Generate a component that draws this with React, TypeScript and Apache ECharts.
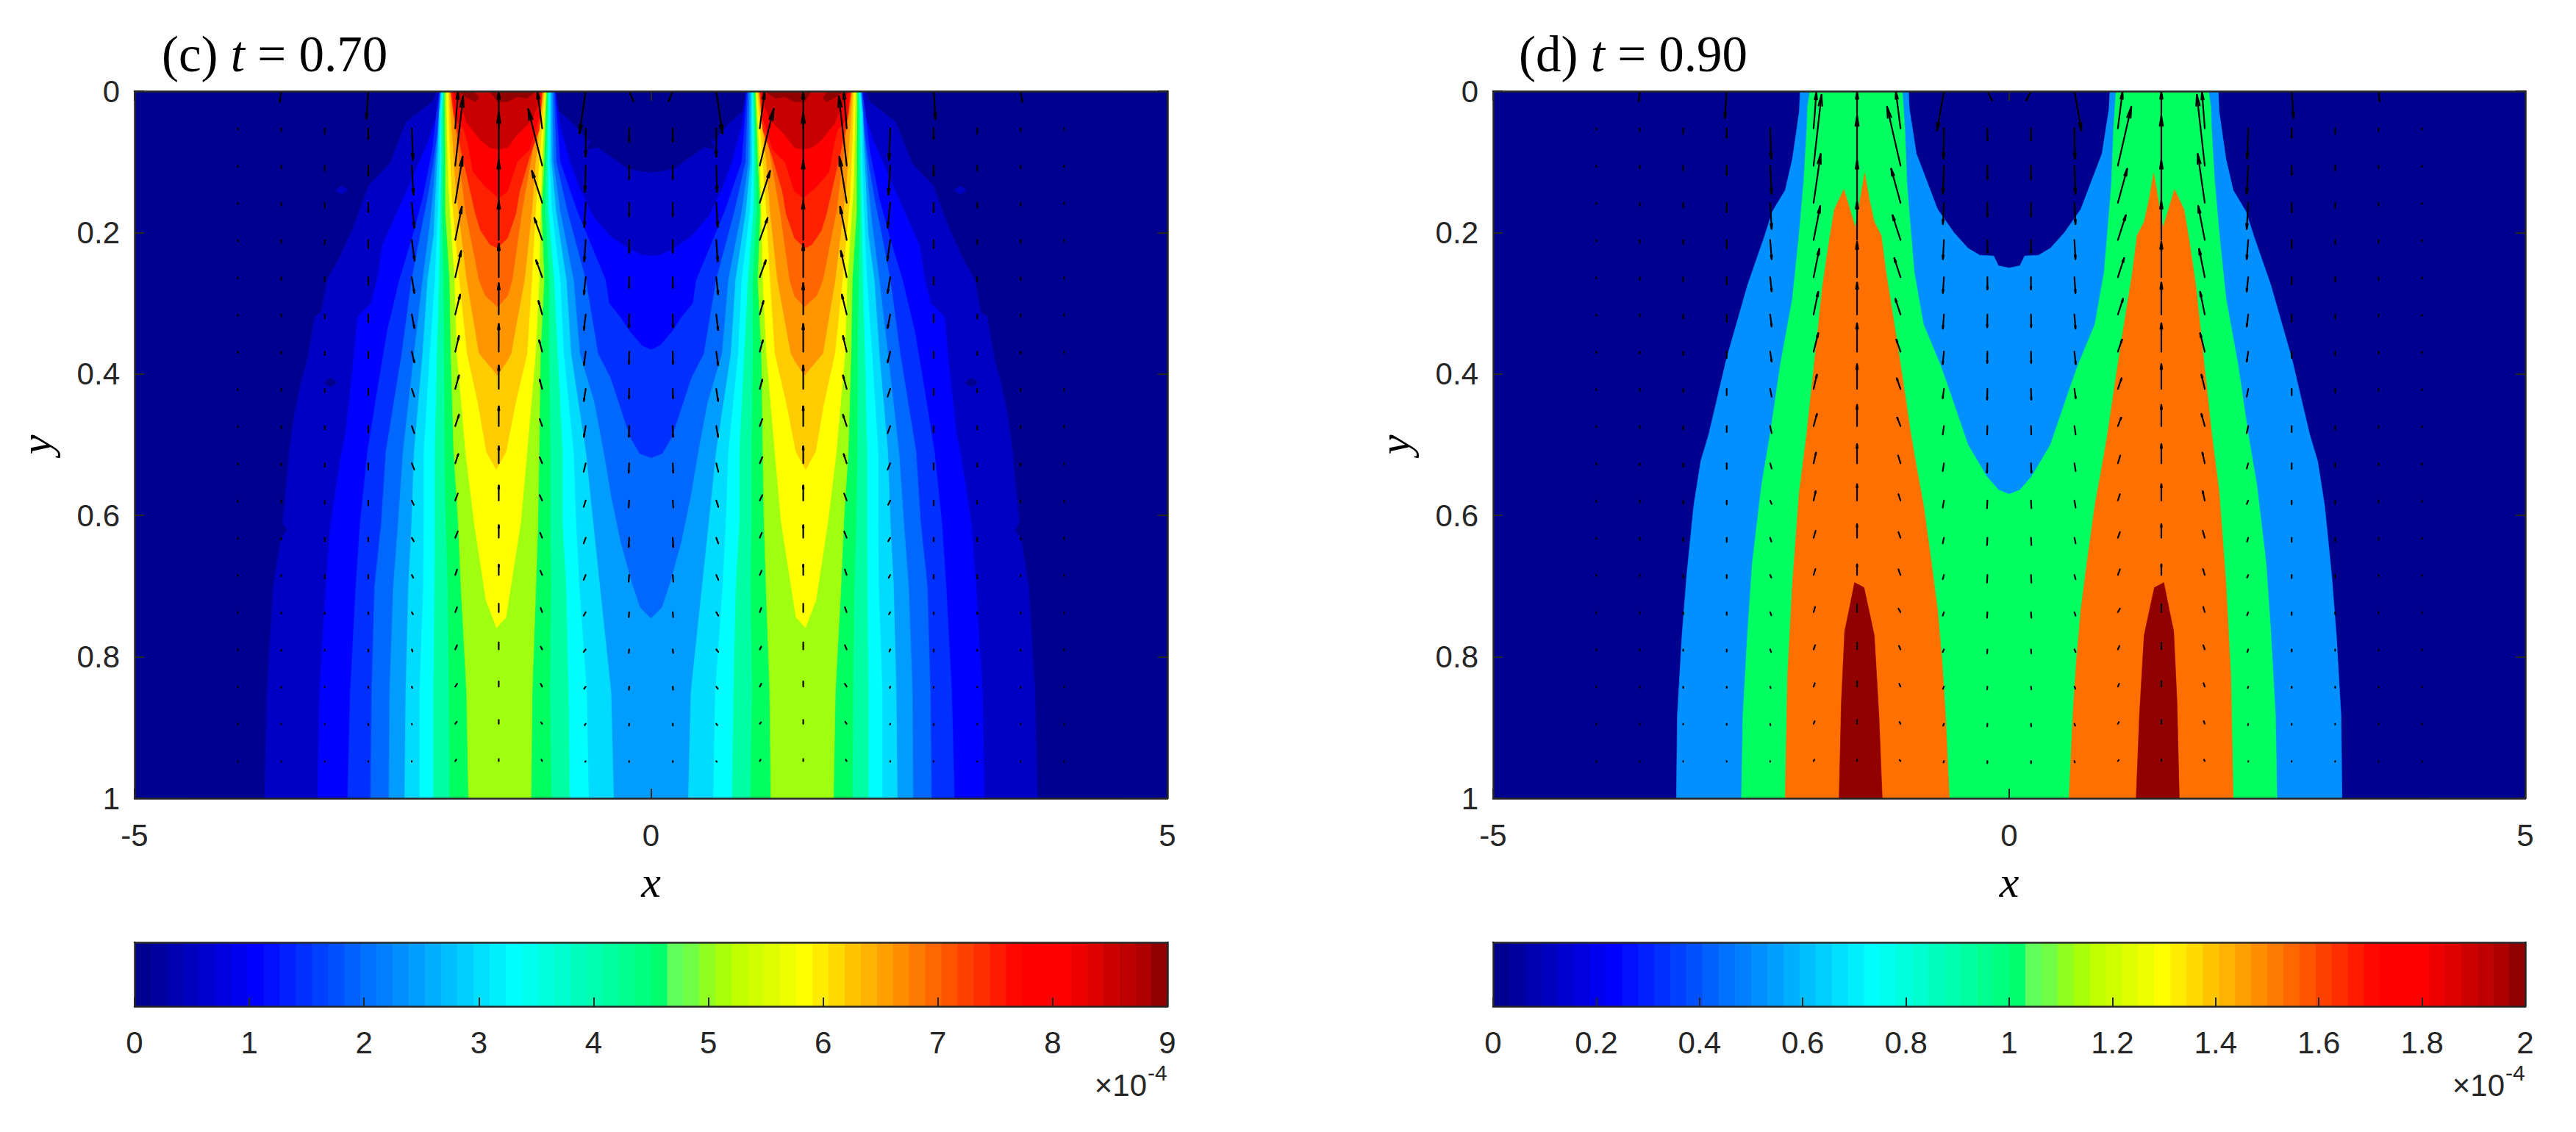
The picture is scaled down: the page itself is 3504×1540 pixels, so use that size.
import React, { useEffect, useRef } from "react";
import * as echarts from "echarts";

type P = number[];

// ---------- colour map of the colour bars (64 cells) ----------
const cmap = [
  "#00008f","#00009f","#0000af","#0000bf","#0000cf","#0000df","#0000ef","#0000ff",
  "#0010ff","#0020ff","#0030ff","#0040ff","#0050ff","#0060ff","#0070ff","#0080ff",
  "#008fff","#009fff","#00afff","#00bfff","#00cfff","#00dfff","#00efff","#00ffff",
  "#00ffef","#00ffdf","#00ffcf","#00ffbf","#00ffaf","#00ff9f","#00ff8f","#00ff7f",
  "#00ff6f","#60ff5a","#70ff45","#90ff20","#a8ff08","#bfff00","#cfff00","#dfff00",
  "#efff00","#ffff00","#ffec00","#ffd900","#ffc600","#ffb300","#ffa000","#ff8d00",
  "#ff7a00","#ff6700","#ff5400","#ff4100","#ff2e00","#ff1b00","#ff0800","#ff0000",
  "#ff0000","#ff0000","#ef0000","#df0000","#cf0000","#bf0000","#af0000","#8f0000",
];

// ---------- tick labels ----------
const xTicks = [-5, 0, 5];
const yTicks = [0, 0.2, 0.4, 0.6, 0.8, 1];
const barCTicks = [0, 1, 2, 3, 4, 5, 6, 7, 8, 9];
const barDTicks = [0, 0.2, 0.4, 0.6, 0.8, 1, 1.2, 1.4, 1.6, 1.8, 2];

// ---------- panel (c): filled contour outlines, left half, mirrored on x = 0 ----------
const cColors = ["#0000c4","#0000ff","#0030ff","#0068ff","#009cff","#00dcff","#00ffff","#00ffa4","#00ff60","#a0ff10","#ffff00","#ffcc00","#ff9500","#ff6600","#ff2000","#ff0000","#c80000","#900000"];
const cL1: P[] = [[-3.74,1],[-3.717,.85],[-3.655,.7],[-3.583,.633],[-3.521,.621],[-3.565,.611],[-3.5,.51],[-3.455,.46],[-3.384,.41],[-3.325,.38],[-3.254,.319],[-3.19,.312],[-3.135,.267],[-3.02,.237],[-2.875,.19],[-2.73,.133],[-2.53,.103],[-2.37,.044],[-2.11,.014],[-2.076,0],[-.92,0],[-.893,.028],[-.763,.045],[-.61,.071],[-.58,.069],[-.632,.083],[-.514,.08],[-.348,.097],[-.229,.11],[-.087,.114],[0,.115]];
const cL2: P[] = [[-3.227,1],[-3.209,.85],[-3.147,.7],[-3.10,.61],[-2.993,.51],[-2.957,.485],[-2.886,.39],[-2.84,.319],[-2.71,.30],[-2.65,.267],[-2.60,.218],[-2.483,.18],[-2.388,.149],[-2.293,.118],[-2.15,.069],[-2.068,.031],[-2.05,0],[-.925,0],[-.88,.05],[-.786,.10],[-.70,.135],[-.56,.177],[-.395,.205],[-.229,.222],[-.087,.232],[0,.233]];
const cL3: P[] = [[-2.937,1],[-2.911,.85],[-2.857,.7],[-2.815,.61],[-2.744,.51],[-2.649,.423],[-2.554,.34],[-2.435,.267],[-2.305,.204],[-2.21,.152],[-2.115,.083],[-2.075,.031],[-2.045,0],[-.93,0],[-.88,.10],[-.715,.17],[-.44,.267],[-.407,.30],[-.30,.319],[-.205,.34],[-.087,.36],[0,.366]];
const cL4: P[] = [[-2.715,1],[-2.704,.85],[-2.675,.7],[-2.61,.61],[-2.566,.51],[-2.412,.371],[-2.317,.267],[-2.234,.204],[-2.163,.152],[-2.115,.111],[-2.068,.062],[-2.04,0],[-.94,0],[-.917,.10],[-.81,.17],[-.632,.267],[-.514,.371],[-.395,.405],[-.30,.447],[-.205,.489],[-.11,.513],[0,.519]];
const cL5: P[] = [[-2.537,1],[-2.53,.85],[-2.494,.7],[-2.447,.61],[-2.40,.51],[-2.293,.371],[-2.21,.267],[-2.139,.187],[-2.103,.135],[-2.075,.083],[-2.05,.038],[-2.035,0],[-.955,0],[-.946,.10],[-.88,.17],[-.75,.267],[-.69,.371],[-.55,.44],[-.46,.51],[-.39,.571],[-.297,.637],[-.188,.695],[-.108,.73],[0,.746]];
const cL6: P[] = [[-2.385,1],[-2.374,.85],[-2.348,.7],[-2.317,.61],[-2.293,.51],[-2.21,.371],[-2.162,.267],[-2.103,.204],[-2.08,.135],[-2.06,.083],[-2.05,.031],[-2.03,0],[-.97,0],[-.965,.10],[-.92,.17],[-.82,.267],[-.775,.371],[-.632,.51],[-.561,.61],[-.496,.7],[-.387,.85],[-.362,1]];
const cL7: P[] = [[-2.239,1],[-2.239,.85],[-2.203,.7],[-2.198,.61],[-2.198,.51],[-2.139,.371],[-2.09,.267],[-2.06,.17],[-2.044,.10],[-2.036,.031],[-2.02,0],[-.98,0],[-.984,.10],[-.96,.17],[-.88,.267],[-.846,.371],[-.751,.51],[-.727,.61],[-.696,.7],[-.623,.85],[-.605,1]];
const cL8: P[] = [[-2.105,1],[-2.105,.85],[-2.094,.7],[-2.091,.61],[-2.091,.51],[-2.07,.371],[-2.05,.267],[-2.037,.17],[-2.03,.10],[-2.025,.03],[-2.01,0],[-.99,0],[-1,.10],[-.993,.17],[-.94,.267],[-.905,.371],[-.858,.51],[-.858,.61],[-.823,.7],[-.8,.85],[-.787,1]];
const cL9: P[] = [[-1.949,1],[-1.956,.85],[-1.967,.7],[-1.985,.61],[-1.996,.51],[-2.0,.371],[-2.008,.267],[-2.02,.17],[-2.01,.10],[-2.01,.03],[-2,0],[-1,0],[-1.017,.10],[-1.024,.17],[-.987,.267],[-.988,.371],[-.976,.51],[-.976,.61],[-.968,.7],[-.98,.85],[-.965,1]];
const cL10: P[] = [[-1.767,1],[-1.785,.85],[-1.84,.7],[-1.866,.61],[-1.91,.51],[-1.937,.371],[-1.949,.267],[-1.99,.17],[-1.99,.083],[-1.996,.014],[-1.995,0],[-1.012,0],[-1.036,.10],[-1.06,.17],[-1.035,.267],[-1.07,.371],[-1.083,.51],[-1.095,.61],[-1.114,.7],[-1.15,.85],[-1.161,1]];
const cL11: P[] = [[-1.495,.759],[-1.597,.72],[-1.712,.61],[-1.795,.51],[-1.878,.371],[-1.9,.267],[-1.96,.135],[-1.973,.066],[-1.98,0],[-1.02,0],[-1.055,.10],[-1.07,.17],[-1.083,.267],[-1.118,.371],[-1.2,.51],[-1.261,.61],[-1.404,.744]];
const cL12: P[] = [[-1.498,.535],[-1.593,.51],[-1.676,.44],[-1.78,.371],[-1.854,.267],[-1.925,.152],[-1.95,.066],[-1.96,0],[-1.03,0],[-1.083,.10],[-1.118,.17],[-1.154,.267],[-1.2,.371],[-1.31,.44],[-1.403,.51]];
const cL13: P[] = [[-1.95,0],[-1.93,.048],[-1.89,.135],[-1.783,.267],[-1.664,.371],[-1.605,.381],[-1.486,.402],[-1.39,.381],[-1.355,.371],[-1.225,.267],[-1.154,.17],[-1.118,.10],[-1.04,0]];
const cL14: P[] = [[-1.94,0],[-1.91,.03],[-1.854,.10],[-1.795,.17],[-1.664,.267],[-1.605,.289],[-1.486,.305],[-1.39,.29],[-1.344,.267],[-1.25,.17],[-1.166,.10],[-1.05,0]];
const cL15: P[] = [[-1.937,0],[-1.913,.031],[-1.84,.083],[-1.78,.121],[-1.70,.173],[-1.65,.197],[-1.558,.217],[-1.486,.222],[-1.39,.208],[-1.308,.173],[-1.273,.142],[-1.178,.094],[-1.083,.055],[-1.052,0]];
const cL16: P[] = [[-1.925,0],[-1.89,.041],[-1.807,.055],[-1.77,.076],[-1.724,.114],[-1.605,.135],[-1.474,.151],[-1.39,.142],[-1.297,.10],[-1.178,.083],[-1.083,.038],[-1.064,0]];
const cL17: P[] = [[-1.913,0],[-1.842,.02],[-1.783,.045],[-1.65,.069],[-1.557,.08],[-1.474,.082],[-1.39,.08],[-1.297,.062],[-1.154,.041],[-1.095,.02],[-1.076,0]];
const cL18a: P[] = [[-1.866,0],[-1.795,.008],[-1.70,.015],[-1.664,.01],[-1.712,0]];
const cL18b: P[] = [[-1.558,0],[-1.486,.015],[-1.39,.015],[-1.297,.008],[-1.2,.01],[-1.106,0]];
const cSpotLight: P[] = [[-3.055,.14],[-2.995,.134],[-2.935,.14],[-2.995,.146]];
const cSpotDark: P[] = [[-3.168,.412],[-3.104,.405],[-3.04,.412],[-3.104,.419]];

// ---------- panel (d): filled contour outlines, left half ----------
const dColors = ["#0090ff","#00ff60","#ff7000","#900000"];
const dL1: P[] = [[-3.224,1],[-3.215,.883],[-3.17,.77],[-3.125,.686],[-3.056,.586],[-2.988,.523],[-2.91,.485],[-2.738,.378],[-2.534,.274],[-2.375,.207],[-2.293,.17],[-2.17,.14],[-2.10,.096],[-2.034,.029],[-2.025,0],[-.976,0],[-.967,.025],[-.90,.088],[-.694,.167],[-.535,.2],[-.40,.222],[-.285,.232],[-.15,.233],[-.104,.247],[0,.25]];
const dL2: P[] = [[-2.594,1],[-2.58,.883],[-2.534,.764],[-2.489,.667],[-2.398,.556],[-2.316,.485],[-2.216,.386],[-2.10,.293],[-2.034,.2],[-1.99,.126],[-1.96,.052],[-1.954,.022],[-1.93,0],[-1.035,0],[-1.012,.05],[-.99,.133],[-.92,.256],[-.83,.33],[-.67,.386],[-.58,.423],[-.435,.485],[-.40,.5],[-.217,.545],[-.104,.564],[0,.57]];
const dL3: P[] = [[-2.17,1],[-2.147,.827],[-2.10,.697],[-2.034,.567],[-1.962,.485],[-1.875,.367],[-1.807,.274],[-1.739,.207],[-1.693,.167],[-1.602,.139],[-1.49,.193],[-1.40,.116],[-1.353,.155],[-1.307,.185],[-1.24,.204],[-1.194,.256],[-1.125,.319],[-1.035,.404],[-.953,.485],[-.90,.53],[-.83,.586],[-.76,.66],[-.694,.734],[-.65,.808],[-.617,.883],[-.58,1]];
const dL4: P[] = [[-1.648,1],[-1.626,.864],[-1.594,.764],[-1.557,.738],[-1.498,.695],[-1.407,.702],[-1.353,.738],[-1.307,.77],[-1.262,.883],[-1.23,1]];

// ---------- quiver field: columns of the left half, mirrored on x = 0 ----------
const qX = [-4, -3.579, -3.158, -2.737, -2.316, -1.895, -1.474, -1.053, -0.632, -0.211];
const qY = [0, .0526, .1053, .1579, .2105, .2632, .3158, .3684, .4211, .4737, .5263, .5789, .6316, .6842, .7368, .7895, .8421, .8947, .9474];

const cV: number[][] = [
  [0,.002,.002,.002,.002,.002,.002,.002,.002,.002,.002,.002,.002,.0015,.0015,.0015,.001,.001,.001],
  [.015,.004,.004,.004,.004,.004,.003,.003,.003,.003,.003,.003,.003,.002,.002,.002,.002,.001,.001],
  [0,.008,.007,.007,.006,.006,.006,.005,.005,.005,.005,.005,.005,.005,.003,.002,.001,.001,.001],
  [.039,.015,.014,.013,.012,.011,.011,.009,.009,.009,.009,.007,.005,.005,.003,.003,.002,.002,.001],
  [0,.045,.041,.035,.029,.022,.019,.015,.011,.010,.009,.006,.005,.004,.003,.003,.002,.001,.001],
  [0,-.052,-.098,-.065,-.047,-.037,-.028,-.022,-.019,-.016,-.013,-.010,-.009,-.0076,-.007,-.006,-.004,-.003,-.002],
  [0,-.052,-.075,-.06,-.055,-.0475,-.044,-.039,-.033,-.028,-.024,-.021,-.0176,-.0145,-.012,-.010,-.0076,-.0055,-.003],
  [0,-.052,-.08,-.045,-.031,-.024,-.019,-.016,-.013,-.010,-.0086,-.0076,-.007,-.006,-.006,-.004,-.004,-.002,-.002],
  [.06,.04,.037,.034,.03,.024,.022,.019,.017,.015,.012,.009,.008,.007,.005,.0035,.003,.002,.001],
  [.014,.019,.019,.019,.018,.015,.018,.017,.013,.015,.013,.010,.013,.0097,.007,.005,.0045,.0025,.0014],
];
const cU: number[][] = [
  [0,0,0,0,0,0,0,0,0,0,0,0,0,0,0,0,0,0,0],
  [-.015,0,0,0,0,0,0,0,0,0,0,0,0,0,0,0,0,0,0],
  [0,0,0,0,0,0,0,0,0,0,0,0,0,0,0,0,0,0,0],
  [-.018,0,0,0,0,0,0,0,0,0,0,0,0,0,0,0,0,0,0],
  [0,.012,.017,.024,.028,.025,.025,.025,.025,.025,.025,.02,.02,.015,.012,.008,.004,.002,0],
  [0,.028,.076,.071,.064,.057,.047,.036,.036,.036,.029,.025,.025,.018,.018,.018,.018,.015,.01],
  [0,0,0,0,0,0,0,0,0,0,0,0,0,0,0,0,0,0,0],
  [0,-.047,-.135,-.10,-.076,-.059,-.036,-.03,-.025,-.025,-.025,-.025,-.02,-.018,-.015,-.015,-.015,-.012,-.008],
  [-.06,0,-.007,-.014,-.014,-.018,-.018,-.018,-.018,-.018,-.02,-.02,-.02,-.02,-.02,-.02,-.015,-.01,-.005],
  [.04,0,0,0,0,0,-.002,-.002,-.003,-.003,-.005,-.005,-.005,-.005,-.004,-.004,-.003,-.002,-.001],
];
const dV: number[][] = [
  [0,.002,.002,.002,.002,.002,.002,.002,.002,.002,.002,.002,.002,.0015,.0015,.0015,.001,.001,.001],
  [.014,.004,.004,.004,.004,.004,.003,.003,.003,.003,.003,.003,.003,.002,.002,.002,.002,.001,.001],
  [0,.008,.007,.007,.006,.006,.006,.005,.005,.005,.005,.005,.005,.004,.003,.002,.002,.001,.001],
  [.038,.013,.013,.013,.012,.0104,.0104,.009,.009,.0085,.008,.0055,.006,.0045,.004,.003,.002,.0015,.001],
  [0,.043,.04,.037,.027,.02,.017,.014,.011,.01,.0075,.005,.0055,.0037,.0045,.0037,.002,.002,.001],
  [0,-.051,-.1,-.069,-.048,-.04,-.032,-.026,-.02,-.017,-.015,-.013,-.01,-.0085,-.0074,-.006,-.0048,-.0037,-.002],
  [0,-.052,-.07,-.06,-.055,-.05,-.045,-.04,-.035,-.03,-.027,-.023,-.019,-.015,-.011,-.0097,-.0078,-.0056,-.0026],
  [0,-.052,-.083,-.048,-.035,-.027,-.022,-.017,-.015,-.012,-.011,-.009,-.008,-.008,-.005,-.005,-.004,-.0026,-.0015],
  [.056,.043,.04,.03,.027,.022,.02,.0175,.013,.012,.011,.01,.008,.006,.005,.0037,.003,.0026,.002],
  [.013,.017,.019,.019,.018,.017,.018,.016,.015,.012,.013,.011,.0104,.0108,.008,.0056,.004,.0037,.003],
];
const dU: number[][] = [
  [0,0,0,0,0,0,0,0,0,0,0,0,0,0,0,0,0,0,0],
  [-.009,0,0,0,0,0,0,0,0,0,0,0,0,0,0,0,0,0,0],
  [0,0,0,0,0,0,0,0,0,0,0,0,0,0,0,0,0,0,0],
  [-.018,0,0,0,0,0,0,0,0,0,0,0,0,0,0,0,0,0,0],
  [0,.01,.015,.015,.015,.015,.015,.015,.015,.015,.015,.015,.012,.012,.012,.01,.005,.003,0],
  [0,.027,.077,.068,.064,.055,.045,.045,.032,.032,.023,.02,.02,.018,.015,.015,.012,.01,.007],
  [0,0,0,0,0,0,0,0,0,0,0,0,0,0,0,0,0,0,0],
  [0,-.045,-.13,-.09,-.077,-.06,-.05,-.04,-.036,-.032,-.023,-.02,-.02,-.02,-.02,-.015,-.012,-.01,-.008],
  [-.068,-.005,-.01,-.01,-.01,-.01,-.01,-.012,-.012,-.012,-.012,-.012,-.012,-.012,-.012,-.012,-.01,-.008,-.005],
  [.045,0,0,0,0,0,-.002,-.002,-.003,-.003,-.004,-.004,-.004,-.004,-.004,-.003,-.003,-.002,-.001],
];

// ---------- styling / layout ----------
const INK = "#262626";
const SANS = "'Liberation Sans', Arial, sans-serif";
const SERIF = "'Liberation Serif', serif";
const FS = 42;
const NAVY = "#00008f";

const panelBoxes = [
  { left: 183, top: 124, width: 1405, height: 962 },
  { left: 2031, top: 124, width: 1404, height: 962 },
];
const barBoxes = [
  { left: 183, top: 1282, width: 1405, height: 87 },
  { left: 2031, top: 1282, width: 1404, height: 87 },
];

function buildPolys(levels: { pts: P[]; color: string }[]) {
  const out: { pts: P[]; color: string }[] = [];
  for (const lv of levels) {
    const last = lv.pts[lv.pts.length - 1];
    if (last[0] === 0) {
      const mirrored = lv.pts.slice(0, -1).reverse().map((p) => [-p[0], p[1]]);
      out.push({ pts: lv.pts.concat(mirrored), color: lv.color });
    } else {
      out.push({ pts: lv.pts, color: lv.color });
      out.push({ pts: lv.pts.map((p) => [-p[0], p[1]]), color: lv.color });
    }
  }
  return out;
}

const cList = [cL1, cSpotLight, cSpotDark, cL2, cL3, cL4, cL5, cL6, cL7, cL8, cL9, cL10, cL11, cL12, cL13, cL14, cL15, cL16, cL17, cL18a, cL18b];
const cColorOf = [0, 0, -1, 1, 2, 3, 4, 5, 6, 7, 8, 9, 10, 11, 12, 13, 14, 15, 16, 17, 17];
const cPolys = buildPolys(cList.map((pts, i) => ({ pts, color: cColorOf[i] < 0 ? NAVY : cColors[cColorOf[i]] })));
const dPolys = buildPolys([dL1, dL2, dL3, dL4].map((pts, i) => ({ pts, color: dColors[i] })));

function quiverData(V: number[][], U: number[][]) {
  const rows: number[][] = [];
  qX.forEach((x, c) => {
    qY.forEach((y, r) => {
      const v = V[c][r];
      const u = U[c][r];
      if (u === 0 && v === 0) return;
      rows.push([x, y, u, v]);
      rows.push([-x, y, -u, v]);
    });
  });
  return rows;
}

function contourSeries(polys: { pts: P[]; color: string }[], axisIndex: number) {
  return {
    type: "custom",
    xAxisIndex: axisIndex,
    yAxisIndex: axisIndex,
    silent: true,
    clip: true,
    z: 2,
    data: polys.map((_, i) => [i]),
    renderItem: (params: any, api: any) => {
      const poly = polys[params.dataIndex];
      return {
        type: "polygon",
        shape: { points: poly.pts.map((p) => api.coord(p)) },
        style: { fill: poly.color, stroke: poly.color, lineWidth: 0.6 },
      };
    },
  };
}

function quiverSeries(data: number[][], axisIndex: number) {
  return {
    type: "custom",
    xAxisIndex: axisIndex,
    yAxisIndex: axisIndex,
    silent: true,
    clip: true,
    z: 3,
    data,
    renderItem: (_: any, api: any) => {
      const x = api.value(0), y = api.value(1), u = api.value(2), v = api.value(3);
      const a = api.coord([x, y]);
      const b = api.coord([x + u, y + v]);
      const dx = b[0] - a[0], dy = b[1] - a[1];
      const len = Math.hypot(dx, dy);
      const style = { stroke: "#000", lineWidth: 2.2, fill: "none", lineCap: "round" };
      const children: any[] = [{ type: "line", shape: { x1: a[0], y1: a[1], x2: b[0], y2: b[1] }, style }];
      if (len > 12) {
        const ang = Math.atan2(dy, dx);
        const h = Math.min(len * 0.2, 15);
        for (const s of [-1, 1]) {
          const t = ang + Math.PI - s * 0.17;
          children.push({ type: "line", shape: { x1: b[0], y1: b[1], x2: b[0] + h * Math.cos(t), y2: b[1] + h * Math.sin(t) }, style });
        }
      }
      return { type: "group", children };
    },
  };
}

function barSeries(max: number, axisIndex: number) {
  return {
    type: "custom",
    xAxisIndex: axisIndex,
    yAxisIndex: axisIndex,
    silent: true,
    z: 2,
    data: cmap.map((_, i) => [(i * max) / cmap.length, ((i + 1) * max) / cmap.length]),
    renderItem: (params: any, api: any) => {
      const a = api.coord([api.value(0), 1]);
      const b = api.coord([api.value(1), 0]);
      const fill = cmap[params.dataIndex];
      return {
        type: "rect",
        shape: { x: a[0], y: a[1], width: b[0] - a[0] + 0.6, height: b[1] - a[1] },
        style: { fill, stroke: null },
      };
    },
  };
}

const axisLine = { show: true, onZero: false, lineStyle: { color: INK, width: 2.5 } };
const tick = { show: true, inside: true, length: 13, lineStyle: { color: INK, width: 2 } };
const none = { show: false };

function panelAxes(g: number) {
  const xBase = { type: "value", gridIndex: g, min: xTicks[0], max: xTicks[2], interval: 5, splitLine: none, z: 10, axisLine, axisTick: tick };
  const yBase = { type: "value", gridIndex: g, inverse: true, min: yTicks[0], max: yTicks[5], interval: 0.2, splitLine: none, z: 10, axisLine, axisTick: tick };
  return {
    x: [
      {
        ...xBase,
        position: "bottom",
        axisLabel: { show: true, margin: 29, fontFamily: SANS, fontSize: FS, color: INK },
        name: "x",
        nameLocation: "middle",
        nameGap: 84,
        nameTextStyle: { fontFamily: SERIF, fontStyle: "italic", fontSize: 60, color: "#000" },
      },
      { ...xBase, position: "top", axisLabel: none },
    ],
    y: [
      {
        ...yBase,
        position: "left",
        axisLabel: { show: true, margin: 20, fontFamily: SANS, fontSize: FS, color: INK },
        name: "y",
        nameLocation: "middle",
        nameGap: 104,
        nameRotate: 90,
        nameTextStyle: { fontFamily: SERIF, fontStyle: "italic", fontSize: 60, color: "#000" },
      },
      { ...yBase, position: "right", axisLabel: none },
    ],
  };
}

function barAxes(g: number, ticks: number[]) {
  const max = ticks[ticks.length - 1];
  const interval = ticks[1];
  return {
    x: [
      {
        type: "value", gridIndex: g, position: "bottom", min: 0, max, interval, splitLine: none, z: 10,
        axisLine, axisTick: { ...tick, length: 12 },
        axisLabel: { show: true, margin: 28, fontFamily: SANS, fontSize: FS, color: INK },
      },
      { type: "value", gridIndex: g, position: "top", min: 0, max, interval, splitLine: none, z: 10, axisLine, axisTick: none, axisLabel: none },
    ],
    y: [
      { type: "value", gridIndex: g, position: "left", min: 0, max: 1, splitLine: none, z: 10, axisLine, axisTick: none, axisLabel: none },
      { type: "value", gridIndex: g, position: "right", min: 0, max: 1, splitLine: none, z: 10, axisLine, axisTick: none, axisLabel: none },
    ],
  };
}

function expText(right: number) {
  return [
    { type: "text", x: right - 28, y: 1476, style: { text: "×10", fontFamily: SANS, fontSize: 42, fill: INK, textAlign: "right", textVerticalAlign: "middle" } },
    { type: "text", x: right - 27, y: 1459, style: { text: "-4", fontFamily: SANS, fontSize: 30, fill: INK, textAlign: "left", textVerticalAlign: "middle" } },
  ];
}

function titleOf(text: string, left: number) {
  return {
    text,
    left,
    top: 39,
    padding: 0,
    textStyle: {
      fontFamily: SERIF,
      fontSize: 69,
      fontWeight: "normal",
      color: "#000",
      rich: { i: { fontFamily: SERIF, fontStyle: "italic", fontSize: 69, color: "#000" } },
    },
  };
}

export default function App() {
  const ref = useRef<HTMLDivElement>(null);
  useEffect(() => {
    document.body.style.margin = "0";
    const chart = echarts.init(ref.current!, undefined, { renderer: "svg" });
    const axes = [panelAxes(0), panelAxes(1), barAxes(2, barCTicks), barAxes(3, barDTicks)];
    const xAxis = axes.flatMap((a) => a.x);
    const yAxis = axes.flatMap((a) => a.y);
    const wholeBox = [{ pts: [[-5, 0], [5, 0], [5, 1], [-5, 1]], color: NAVY }];
    chart.setOption({
      animation: false,
      backgroundColor: "#fff",
      title: [titleOf("(c) {i|t} = 0.70", 220), titleOf("(d) {i|t} = 0.90", 2066)],
      grid: [...panelBoxes, ...barBoxes].map((b) => ({ ...b, containLabel: false })),
      xAxis,
      yAxis,
      series: [
        contourSeries(wholeBox.concat(cPolys), 0),
        quiverSeries(quiverData(cV, cU), 0),
        contourSeries(wholeBox.concat(dPolys), 2),
        quiverSeries(quiverData(dV, dU), 2),
        barSeries(barCTicks[barCTicks.length - 1], 4),
        barSeries(barDTicks[barDTicks.length - 1], 6),
      ],
      graphic: [...expText(1588), ...expText(3435)],
    });
    return () => chart.dispose();
  }, []);
  return <div ref={ref} style={{ position: "absolute", left: 0, top: 0, width: 3504, height: 1540 }} />;
}
